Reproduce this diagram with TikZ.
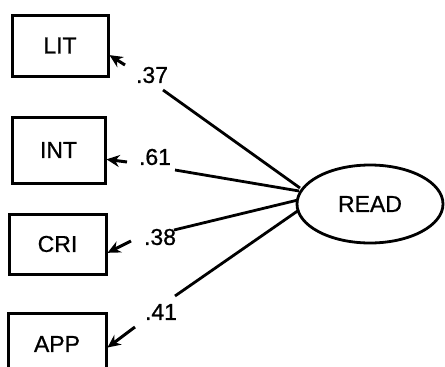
\documentclass[tikz,border=0pt]{standalone}
\usepackage{fontspec}
\setmainfont{Liberation Sans}[FakeBold=0.8]
\usetikzlibrary{arrows.meta,shapes.geometric}
\begin{document}
\begin{tikzpicture}[x=1pt,y=-1pt,
  obsbox/.style={draw,line width=3pt,inner sep=0pt,font=\fontsize{23}{26}\selectfont},
  latent/.style={draw,ellipse,line width=2.8pt,inner sep=0pt,minimum width=146pt,minimum height=78pt,font=\fontsize{23}{26}\selectfont},
  load/.style={line width=2.8pt},
  err/.style={line width=3pt,-{Stealth[length=13pt,width=12pt]}},
  coef/.style={font=\fontsize{23}{26}\selectfont,inner sep=0pt}]
\useasboundingbox (0,0) rectangle (445,367);
\clip (0,0) rectangle (445,367);
\node[obsbox,minimum width=96pt,minimum height=61pt] (LIT) at (60,45.5) {LIT};
\node[obsbox,minimum width=93pt,minimum height=66pt] (INT) at (58.5,150) {INT};
\node[obsbox,minimum width=97pt,minimum height=60pt] (CRI) at (57.5,244) {CRI};
\node[obsbox,minimum width=98pt,minimum height=62pt] (APP) at (57,344) {APP};
\node[latent] (READ) at (370,204) {READ};
\node[coef] (c37) at (152,75) {.37};
\node[coef] (c61) at (155,157) {.61};
\node[coef] (c38) at (160,237) {.38};
\node[coef] (c41) at (161,312) {.41};
\coordinate (s37) at (163,90);
\coordinate (s61) at (175,170);
\coordinate (s38) at (174,230);
\coordinate (s41) at (175,296);
\coordinate (e37) at (300,188);
\coordinate (e61) at (299,191);
\coordinate (e38) at (298,200);
\coordinate (e41) at (299,210);
\draw[load] (s37) -- (e37);
\draw[load] (s61) -- (e61);
\draw[load] (s38) -- (e38);
\draw[load] (s41) -- (e41);
\coordinate (t1) at (125,65);
\coordinate (t2) at (127,162);
\coordinate (t3) at (131,241);
\coordinate (t4) at (135,327);
\draw[err] (t1) -- (LIT.-11);
\draw[err] (t2) -- (INT.-11);
\draw[err] (t3) -- (CRI.-10);
\draw[err] (t4) -- (APP.-4);
\end{tikzpicture}
\end{document}
